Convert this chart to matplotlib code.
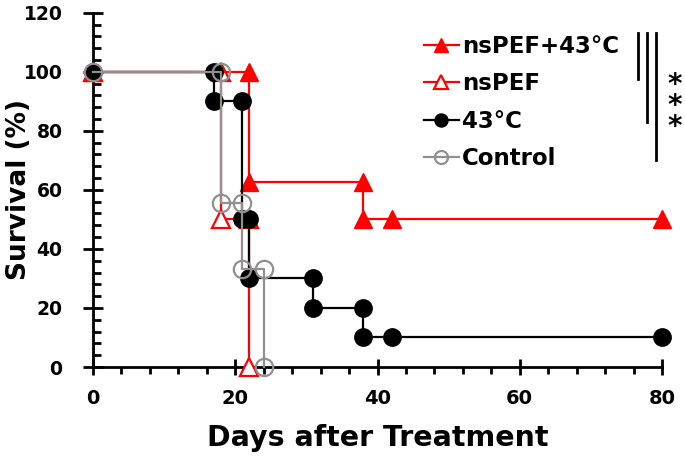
import numpy as np
import matplotlib.pyplot as plt
from matplotlib.ticker import MultipleLocator

plt.rcParams['font.family'] = ['DejaVu Sans']
plt.rcParams['font.weight'] = 'bold'

# survival curves (days, percent) incl. step points
combo_x = [0, 22, 22, 38, 38, 42, 80]
combo_y = [100, 100, 62.5, 62.5, 50, 50, 50]

pef_x = [0, 18, 18, 22, 22]
pef_y = [100, 100, 50, 50, 0]

heat_x = [0, 17, 17, 21, 21, 22, 22, 31, 31, 38, 38, 42, 80]
heat_y = [100, 100, 90, 90, 50, 50, 30, 30, 20, 20, 10, 10, 10]

ctrl_x = [0, 18, 18, 21, 21, 24, 24]
ctrl_y = [100, 100, 55.6, 55.6, 33.3, 33.3, 0]

labels = ['nsPEF+43°C', 'nsPEF', '43°C', 'Control']

# significance brackets: (x, y_top, y_bottom)
sig_x = [76.6, 77.9, 79.2]
sig_top = [113, 113, 113]
sig_bot = [97.5, 83, 70]

fig = plt.figure(figsize=(6.85, 4.57), dpi=100)
ax = fig.add_axes([0.1358, 0.1969, 0.8306, 0.7753])

grey = '#909090'
ms = 12.5
l2, = ax.plot(pef_x, pef_y, color='red', lw=1.6, marker='^', ms=ms,
              mfc='white', mec='red', mew=1.6, clip_on=False, zorder=3)
l1, = ax.plot(combo_x, combo_y, color='red', lw=1.6, marker='^', ms=ms,
              mfc='red', mec='red', clip_on=False, zorder=4)
l3, = ax.plot(heat_x, heat_y, color='black', lw=1.6, marker='o', ms=ms,
              mfc='black', mec='black', clip_on=False, zorder=5)
l4, = ax.plot(ctrl_x, ctrl_y, color=grey, lw=1.6, marker='o', ms=ms,
              mfc='none', mec=grey, mew=1.6, clip_on=False, zorder=6)

ax.set_xlim(0, 80)
ax.set_ylim(0, 120)
ax.xaxis.set_major_locator(MultipleLocator(20))
ax.xaxis.set_minor_locator(MultipleLocator(4))
ax.yaxis.set_major_locator(MultipleLocator(20))
ax.yaxis.set_minor_locator(MultipleLocator(4))

for s in ['top', 'right']:
    ax.spines[s].set_visible(False)
for s in ['left', 'bottom']:
    ax.spines[s].set_linewidth(2)

ax.tick_params(axis='x', which='major', direction='inout', length=12, width=2,
               labelsize=14, pad=10)
ax.tick_params(axis='x', which='minor', direction='out', length=5, width=2)
ax.tick_params(axis='y', which='major', direction='inout', length=14, width=2,
               labelsize=13.5, pad=15)
ax.tick_params(axis='y', which='minor', direction='in', length=6, width=2)

ax.set_xlabel('Days after Treatment', fontsize=20.5, fontweight='bold', labelpad=11)
ax.set_ylabel('Survival (%)', fontsize=19, fontweight='bold')
ax.yaxis.set_label_coords(-0.13, 0.5)
ax.yaxis.label.set_verticalalignment('center')

leg = ax.legend([l1, l2, l3, l4], labels,
                loc='upper left', bbox_to_anchor=(0.546, 0.996), frameon=False,
                prop={'size': 16.5, 'weight': 'bold'}, handlelength=1.5,
                handletextpad=0.13, labelspacing=0.63, markerscale=0.75)

for x, t, b in zip(sig_x, sig_top, sig_bot):
    ax.plot([x, x], [b, t], color='black', lw=2, clip_on=False)

ax.text(81.8, 88.5, '*\n*\n*', fontsize=20, fontweight='bold', ha='center',
        va='center', linespacing=0.68)

fig.savefig('out.png', dpi=100)
